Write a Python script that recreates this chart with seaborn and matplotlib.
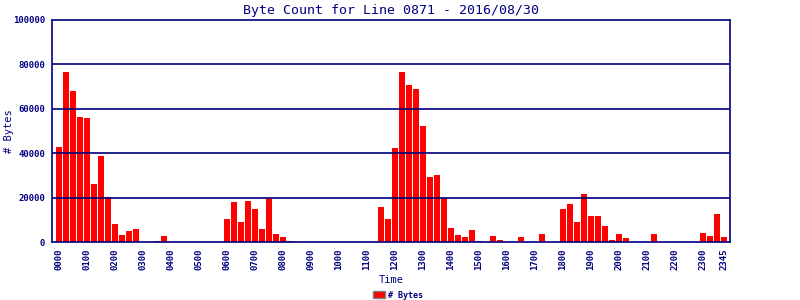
import matplotlib
matplotlib.use("Agg")
import matplotlib.pyplot as plt
import seaborn as sns
import pandas as pd
from matplotlib.patches import Patch

# 15-minute intervals
times = [f"{h:02d}{m:02d}" for h in range(24) for m in (0, 15, 30, 45)]
byte_counts = [
    42900, 76400, 67800, 56400, 55700, 26300, 38900, 20400,   # 00-01
    8200, 3300, 5100, 6000, 0, 0, 600, 2800,                  # 02-03
    0, 0, 0, 0, 0, 0, 0, 0,                                   # 04-05
    10500, 17800, 9100, 18300, 15000, 6000, 19600, 3700,      # 06-07
    2400, 600, 0, 0, 0, 0, 0, 0,                              # 08-09
    0, 0, 0, 0, 0, 0, 15900, 10500,                           # 10-11
    42500, 76400, 70900, 69100, 52400, 29400, 30300, 20000,   # 12-13
    6500, 3300, 2400, 5600, 600, 0, 2800, 1000,               # 14-15
    0, 0, 2400, 0, 0, 3700, 0, 0,                             # 16-17
    15000, 17200, 9100, 21800, 11900, 11900, 7400, 1000,      # 18-19
    3700, 1900, 0, 0, 0, 3700, 0, 0,                          # 20-21
    0, 0, 0, 0, 4200, 2800, 12800, 2400,                      # 22-23
]
tick_labels = [t for t in times if t.endswith("00")] + ["2345"]
y_ticks = [0, 20000, 40000, 60000, 80000, 100000]

title = "Byte Count for Line 0871 - 2016/08/30"
navy = "#000080"
mono = "DejaVu Sans Mono"

sns.set_theme(style="white")
plt.rcParams["font.family"] = [mono]

df = pd.DataFrame({"Time": times, "Bytes": byte_counts})

fig = plt.figure(figsize=(8, 3), dpi=100)
ax = fig.add_axes([52 / 800, 1 - 242 / 300, (730 - 52) / 800, (242 - 20) / 300])

sns.barplot(data=df, x="Time", y="Bytes", order=times, color="#ff0000",
            saturation=1, width=0.86, linewidth=0, ax=ax, zorder=1)

ax.set_xlim(-1, 95.86)
ax.set_ylim(0, 100000)

tick_pos = [times.index(t) for t in tick_labels]
ax.set_xticks(tick_pos)
ax.set_xticklabels(tick_labels, rotation=90, fontsize=6.5, fontweight="bold",
                   color=navy, family=mono)
ax.set_yticks(y_ticks)
ax.set_yticklabels([str(v) for v in y_ticks], fontsize=6.5, fontweight="bold",
                   color=navy, family=mono)
ax.tick_params(axis="both", length=0, pad=5)

for v in y_ticks[1:-1]:
    ax.axhline(v, color=navy, lw=1.2, zorder=3)

for s in ax.spines.values():
    s.set_color(navy)
    s.set_linewidth(1.2)
    s.set_visible(True)

ax.set_xlabel("Time", fontsize=7.5, color=navy, family=mono, labelpad=3)
ax.set_ylabel("# Bytes", fontsize=7.5, color=navy, family=mono)
ax.yaxis.set_label_coords((14 - 52) / 678, (242 - 131) / 222)
ax.set_title(title, fontsize=9.5, color=navy, family=mono, pad=4)

handles = [Patch(facecolor="#ff0000", edgecolor="#808080", linewidth=1)]
fig.legend(handles, ["# Bytes"], loc="center", bbox_to_anchor=(398 / 800, 1 - 295 / 300),
           frameon=False, handlelength=1.4, handleheight=0.9,
           handletextpad=0.3, prop={"family": mono, "weight": "bold", "size": 6})
for t in fig.legends[0].get_texts():
    t.set_color(navy)

fig.savefig("out.png", dpi=100, facecolor="white")
